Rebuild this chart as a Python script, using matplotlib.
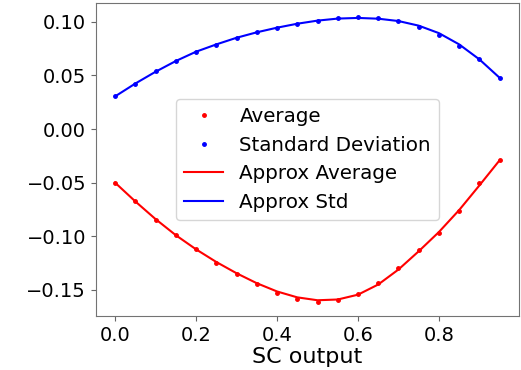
import matplotlib
matplotlib.use("Agg")
import matplotlib.pyplot as plt
import numpy as np

sc_output = np.arange(20) * 0.05

average = [-0.0501, -0.0673, -0.0844, -0.0989, -0.1123, -0.1245, -0.1351, -0.1448,
           -0.1533, -0.1583, -0.1611, -0.1595, -0.1539, -0.1432, -0.1292, -0.1132,
           -0.0973, -0.0763, -0.0507, -0.0288]
std_dev = [0.0306, 0.0422, 0.0540, 0.0638, 0.0722, 0.0788, 0.0850, 0.0903,
           0.0945, 0.0985, 0.1013, 0.1038, 0.1044, 0.1038, 0.1013, 0.0953,
           0.0882, 0.0775, 0.0650, 0.0478]

approx_avg = [-0.0500, -0.0675, -0.0840, -0.0990, -0.1122, -0.1240, -0.1345, -0.1438,
              -0.1515, -0.1570, -0.1597, -0.1590, -0.1545, -0.1450, -0.1310, -0.1140,
              -0.0960, -0.0755, -0.0525, -0.0290]
approx_std = [0.0305, 0.0425, 0.0535, 0.0635, 0.0722, 0.0790, 0.0852, 0.0903,
              0.0946, 0.0983, 0.1012, 0.1031, 0.1037, 0.1030, 0.1008, 0.0965,
              0.0895, 0.0790, 0.0650, 0.0478]

fig = plt.figure(figsize=(5.21, 3.70), dpi=100)
ax = fig.add_axes([0.184, 0.146, 0.812, 0.846])
ax.plot(sc_output, average, "r.", markersize=5, label="Average")
ax.plot(sc_output, std_dev, "b.", markersize=5, label="Standard Deviation")
ax.plot(sc_output, approx_avg, "r-", linewidth=1.5, label="Approx Average")
ax.plot(sc_output, approx_std, "b-", linewidth=1.5, label="Approx Std")
ax.set_xlabel("SC output", fontsize=16, labelpad=2)
ax.tick_params(labelsize=14, color="0.4")
for sp in ax.spines.values():
    sp.set_color("0.45")
ax.legend(fontsize=14.3, loc="center")
fig.savefig("out.png", dpi=100)
